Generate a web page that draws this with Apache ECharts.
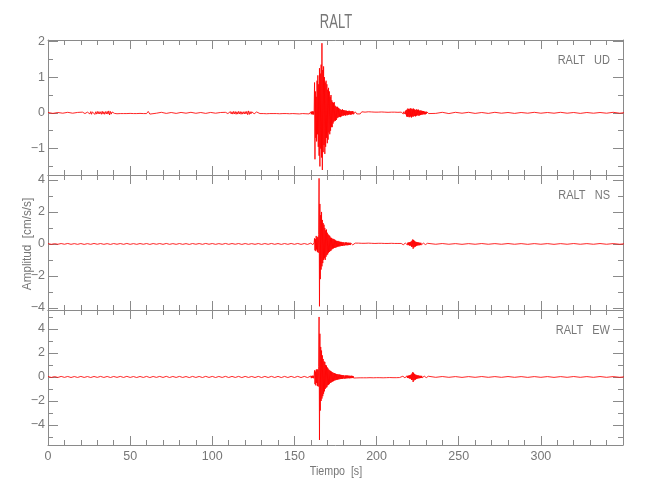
<!DOCTYPE html>
<html>
<head>
<meta charset="utf-8">
<script src="https://cdn.jsdelivr.net/npm/echarts@6/dist/echarts.min.js"></script>
<style>html,body{margin:0;padding:0;background:#fff}#c{width:650px;height:500px}</style>
</head>
<body>
<div id="c"></div>
<script>
// ---------- data (time in s, amplitude in cm/s/s) ----------
const TITLE = 'RALT';
const COMPONENTS = ['RALT   UD', 'RALT   NS', 'RALT   EW'];
const X_LABEL = 'Tiempo  [s]';
const Y_LABEL = 'Amplitud  [cm/s/s]';
const X_MIN = 0, X_MAX = 350, X_STEP = 50;

const UD_RANGE = [-1.74, 2.04];
const NS_RANGE = [-4.13, 4.31];
const EW_RANGE = [-5.67, 5.58];
const UD_TICKS = [-1, 0, 1, 2];
const UD_MINOR = [-1.5, -0.5, 0.5, 1.5];
const NS_TICKS = [-4, -2, 0, 2, 4];
const NS_MINOR = [-3, -1, 1, 3];
const EW_TICKS = [-4, -2, 0, 2, 4];
const EW_MINOR = [-5, -3, -1, 1, 3, 5];

// UD samples
const UD_N0 = [0.01,-0.015,0.01,-0.01,0.015,-0.01,0.012];
const UD_N1 = [0.02,-0.03,0.025,-0.02,0.03,-0.035,0.02,-0.03,0.04,-0.03,0.035,-0.04,0.03,-0.025,0.04,-0.045,0.03,-0.035,0.04,-0.03,0.035,-0.03,0.03,-0.04,0.045,-0.035,0.03,-0.04,0.035,-0.03,0.04,-0.035,0.055,-0.06,0.04,-0.035,0.025,-0.03,0.02,-0.015];
const UD_N2 = [0.02,-0.025,0.02,-0.02,0.025,-0.02,0.015,-0.02,0.02,-0.015,0.02,-0.02,0.015,-0.02,0.02,-0.015,0.02,-0.02,0.015,-0.02,0.04,-0.035];
const UD_N3 = [0.015,-0.01,0.015,-0.015,0.01,-0.015,0.012,-0.01,0.015,-0.012,0.01,-0.015,0.012,-0.01,0.01];
const UD_N4 = [0.015,-0.02,0.025,-0.02,0.03,-0.025,0.035,-0.03,0.03,-0.035,0.04,-0.03,0.035,-0.04,0.03,-0.035,0.04,-0.03,0.035,-0.04,0.03,-0.035,0.03,-0.03,0.035,-0.03,0.04,-0.05,0.055,-0.045,0.035,-0.03,0.03,-0.025,0.03,-0.025,0.02,-0.02,0.025,-0.02];
const UD_N5 = [0.02,-0.02,0.025,-0.02,0.02,-0.025,0.02,-0.02,0.025,-0.02,0.02,-0.02,0.025,-0.025,0.02,-0.02,0.025,-0.02,0.02,-0.025,0.03,-0.02,0.025,-0.025,0.02,-0.03,0.025,-0.02,0.03,-0.025,0.02,-0.03];
const UD_BURST = [0.03,-0.04,0.035,-0.03,0.04,-0.05,0.04,-0.045,0.05,0.85,-1.3,0.6,-0.7,0.45,-0.8,0.9,-0.6,1.05,-0.95,0.8,-1.2,1.25,-1.5,1.1,-1.0,1.35,-1.25,1.95,-1.6,1.2,-1.1,1.3,-0.9,1.0,-1.15,0.85,-0.95,0.9,-0.7,0.8,-0.85,0.65,-0.75,0.7,-0.55,0.6,-0.6,0.45,-0.5,0.5,-0.4,0.35,-0.4,0.3,-0.3,0.28,-0.25,0.3,-0.22,0.2,-0.22,0.18,-0.2,0.16,-0.15,0.17,-0.13,0.14,-0.12,0.12,-0.11,0.1,-0.12,0.09,-0.1,0.08,-0.09,0.1,-0.07,0.08,-0.08,0.07,-0.06,0.07,-0.08,0.06,-0.05,0.06,-0.07,0.05,-0.06,0.05,-0.05,0.06,-0.04,0.05,-0.05,0.04,-0.05,0.04,-0.04,0.05,-0.03,0.04,-0.04];
const UD_TAIL = [0.03,-0.03,0.025,-0.03,0.03,-0.025,0.02,-0.025,0.03,-0.02,0.025,-0.02,0.02,-0.025,0.02,-0.02,0.025,-0.02,0.02,-0.02,0.015,-0.02,0.02,-0.015,0.02,-0.02,0.015,-0.02,0.02];
const UD_CODA = [0.02,-0.03,0.03,-0.02,0.04,-0.03,0.05,-0.04,0.08,-0.1,0.09,-0.11,0.12,-0.1,0.11,-0.12,0.1,-0.12,0.13,-0.1,0.11,-0.13,0.12,-0.1,0.1,-0.11,0.12,-0.09,0.1,-0.09,0.08,-0.1,0.09,-0.08,0.1,-0.07,0.08,-0.07,0.09,-0.08,0.06,-0.07,0.07,-0.06,0.06,-0.05,0.06,-0.05,0.05,-0.04,0.05,-0.04,0.04,-0.04,0.03,-0.04,0.03,-0.03,0.03,-0.02,0.03,-0.02,0.02,-0.02];
const UD_END = [0.02,-0.015,0.015,-0.02,0.015,-0.01,0.015,-0.015,0.01,-0.015,0.015,-0.01,0.01,-0.015,0.01,-0.01,0.015,-0.01,0.01,-0.01,0.015,-0.01,0.01,-0.015,0.01,-0.01,0.01,-0.01,0.015,-0.01,0.01];

// NS samples
const NS_PRE = [0.02,-0.025,0.015,-0.02,0.025,-0.02,0.03,-0.025,0.02,-0.025,0.025,-0.03,0.02,-0.025,0.03,-0.02,0.025,-0.025,0.02,-0.03,0.025,-0.02,0.025,-0.025,0.03,-0.025,0.02,-0.025,0.025,-0.02,0.025,-0.03,0.025,-0.02,0.025,-0.025,0.03,-0.025,0.02,-0.025,0.025,-0.025,0.02,-0.03,0.025,-0.02,0.025,-0.025,0.03,-0.02,0.025,-0.025,0.02,-0.025,0.03,-0.025,0.025,-0.02,0.025,-0.03,0.025,-0.025,0.02,-0.025,0.025,-0.03,0.025,-0.025,0.03,-0.025,0.025,-0.03,0.025,-0.025,0.03,-0.025,0.03,-0.03,0.025,-0.03];
const NS_BURST = [0.05,-0.06,0.05,-0.07,0.06,-0.05,0.07,-0.06,0.08,0.35,-0.4,0.3,-0.45,0.5,-0.35,0.4,-0.5,0.45,-0.55,0.6,4.1,-3.9,2.5,-2.2,1.8,-1.6,2.0,-1.4,1.5,-1.2,1.3,-1.0,1.2,-0.9,1.0,-1.0,0.85,-0.8,0.9,-0.7,0.7,-0.65,0.6,-0.55,0.55,-0.5,0.5,-0.45,0.4,-0.42,0.38,-0.35,0.33,-0.3,0.32,-0.28,0.3,-0.25,0.27,-0.24,0.22,-0.22,0.2,-0.2,0.18,-0.17,0.19,-0.16,0.16,-0.15,0.14,-0.15,0.13,-0.12,0.13,-0.12,0.11,-0.12,0.1,-0.11,0.1,0.09,-0.1,0.09,-0.08,0.1,-0.08,0.09,-0.08,0.07,-0.08,0.08,-0.07,0.07,-0.06,0.07,-0.07,0.06,-0.06,0.07,-0.05,0.06,-0.06,0.05,-0.06];
const NS_TAIL = [0.05,-0.04,0.05,-0.05,0.04,-0.05,0.04,-0.04,0.05,-0.04,0.04,-0.04,0.03,-0.04,0.04,-0.03,0.04,-0.04,0.03,-0.04,0.03,-0.03,0.04,-0.03,0.03,-0.04,0.03,-0.03,0.03];
const NS_CODA = [0.04,-0.05,0.05,-0.04,0.06,-0.05,0.05,-0.06,0.06,-0.07,0.07,-0.06,0.08,-0.07,0.09,-0.08,0.1,-0.12,0.12,-0.1,0.15,-0.18,0.2,-0.17,0.28,-0.3,0.25,-0.22,0.2,-0.18,0.15,-0.16,0.13,-0.12,0.12,-0.1,0.1,-0.09,0.09,-0.08,0.08,-0.08,0.07,-0.07,0.07,-0.06,0.06,-0.06,0.06,-0.05,0.05,-0.06,0.05,-0.05,0.05,-0.04,0.05,-0.04,0.04,-0.05,0.04,-0.04,0.04,-0.04];
const NS_END = [0.02,-0.02,0.025,-0.02,0.02,-0.025,0.02,-0.02,0.025,-0.02,0.02,-0.02,0.025,-0.02,0.02,-0.025,0.02,-0.02,0.02,-0.025,0.02,-0.02,0.025,-0.02,0.02,-0.02,0.025,-0.02,0.02,-0.02,0.02];

// EW samples
const EW_PRE = [0.035,-0.04,0.03,-0.04,0.045,-0.035,0.04,-0.045,0.035,-0.04,0.045,-0.04,0.035,-0.045,0.04,-0.035,0.045,-0.04,0.04,-0.045,0.04,-0.035,0.045,-0.04,0.05,-0.04,0.035,-0.045,0.04,-0.04,0.045,-0.05,0.04,-0.035,0.045,-0.04,0.05,-0.045,0.04,-0.04,0.045,-0.04,0.035,-0.05,0.045,-0.04,0.04,-0.045,0.05,-0.04,0.045,-0.045,0.04,-0.04,0.05,-0.045,0.045,-0.04,0.045,-0.05,0.045,-0.04,0.04,-0.045,0.045,-0.05,0.045,-0.045,0.05,-0.045,0.045,-0.05,0.045,-0.045,0.05,-0.045,0.05,-0.05,0.045,-0.05];
const EW_BURST = [0.08,-0.1,0.09,-0.08,0.1,-0.09,0.1,-0.11,0.12,0.55,-0.6,0.45,-0.7,0.6,-0.5,0.65,-0.75,0.6,-0.8,0.9,5.0,-5.25,3.6,-2.8,2.5,-2.0,2.2,-1.8,1.8,-1.6,1.5,-1.4,1.3,-1.2,1.25,-1.0,1.0,-0.9,0.95,-0.85,0.8,-0.7,0.7,-0.65,0.6,-0.6,0.55,-0.5,0.5,-0.48,0.45,-0.42,0.4,-0.38,0.36,-0.35,0.33,-0.3,0.32,-0.28,0.27,-0.26,0.25,-0.24,0.23,-0.22,0.22,-0.2,0.2,-0.19,0.2,-0.18,0.18,-0.17,0.17,-0.16,0.16,-0.15,0.15,-0.14,0.14,0.13,-0.14,0.12,-0.13,0.13,-0.12,0.12,-0.11,0.12,-0.11,0.11,-0.1,0.1,-0.11,0.1,-0.1,0.09,-0.1,0.1,-0.09,0.09,-0.09,0.08,-0.09];
const EW_TAIL = [0.07,-0.08,0.07,-0.07,0.08,-0.07,0.06,-0.07,0.07,-0.06,0.07,-0.07,0.06,-0.06,0.07,-0.06,0.06,-0.07,0.06,-0.06,0.06,-0.05,0.06,-0.06,0.05,-0.06,0.06,-0.05,0.05];
const EW_CODA = [0.06,-0.07,0.07,-0.06,0.08,-0.07,0.08,-0.08,0.08,-0.09,0.09,-0.08,0.1,-0.09,0.11,-0.1,0.13,-0.15,0.16,-0.14,0.2,-0.25,0.28,-0.24,0.4,-0.42,0.35,-0.3,0.26,-0.24,0.2,-0.22,0.18,-0.16,0.15,-0.14,0.13,-0.12,0.12,-0.11,0.1,-0.1,0.1,-0.09,0.09,-0.08,0.09,-0.08,0.08,-0.08,0.07,-0.08,0.07,-0.07,0.07,-0.06,0.07,-0.06,0.06,-0.07,0.06,-0.06,0.06,-0.06];
const EW_END = [0.03,-0.03,0.035,-0.03,0.03,-0.035,0.03,-0.03,0.035,-0.03,0.03,-0.03,0.035,-0.03,0.03,-0.035,0.03,-0.03,0.03,-0.035,0.03,-0.03,0.035,-0.03,0.03,-0.03,0.035,-0.03,0.03,-0.03,0.03];

// segments: [start time, sample step, samples]
const UD_SEGS = [[0,3,UD_N0],[21,0.5,UD_N1],[41,1,UD_N2],[63,3,UD_N3],[108,0.5,UD_N4],[128,1,UD_N5],[160,0.25,UD_BURST],[187,1,UD_TAIL],[216,0.25,UD_CODA],[232,4,UD_END]];
const NS_SEGS = [[0,2,NS_PRE],[160,0.25,NS_BURST],[187,1,NS_TAIL],[216,0.25,NS_CODA],[232,4,NS_END]];
const EW_SEGS = [[0,2,EW_PRE],[160,0.25,EW_BURST],[187,1,EW_TAIL],[216,0.25,EW_CODA],[232,4,EW_END]];

// ---------- chart ----------
function build(segs) {
  const out = [];
  segs.forEach(([t0, dt, vals]) => vals.forEach((v, i) => out.push([+(t0 + i * dt).toFixed(3), v])));
  return out;
}
const PANELS = [
  {range: UD_RANGE, ticks: UD_TICKS, minor: UD_MINOR, data: build(UD_SEGS)},
  {range: NS_RANGE, ticks: NS_TICKS, minor: NS_MINOR, data: build(NS_SEGS)},
  {range: EW_RANGE, ticks: EW_TICKS, minor: EW_MINOR, data: build(EW_SEGS)}
];

const FONT = "'Liberation Sans', Arial, sans-serif";
const AX = '#8a8a8a';
const TXT = '#777777';
const L = 48, W = 575, H = 135, TOPS = [40, 175, 310];

const grid = [], xAxis = [], yAxis = [], series = [];
PANELS.forEach((p, i) => {
  for (let k = 0; k < 3; k++) grid.push({left: L, top: TOPS[i], width: W, height: H, containLabel: false});
  const g = 3 * i;
  const xBase = {type: 'value', min: X_MIN, max: X_MAX, interval: X_STEP,
    axisLine: {show: true, onZero: false, lineStyle: {color: AX, width: 1}},
    axisTick: {show: true, inside: true, length: 9, lineStyle: {color: AX}},
    minorTick: {show: true, splitNumber: 5, length: 5, lineStyle: {color: AX}},
    splitLine: {show: false}, minorSplitLine: {show: false}};
  xAxis.push(Object.assign({}, xBase, {gridIndex: g, position: 'bottom',
    axisLabel: {show: i === 2, margin: 5, color: TXT, fontFamily: FONT, fontSize: 12.5,
      formatter: v => (v >= X_MAX ? '' : String(v))}}));
  xAxis.push(Object.assign({}, xBase, {gridIndex: g + 1, position: 'top', axisLabel: {show: false}}));
  xAxis.push({gridIndex: g + 2, type: 'value', min: X_MIN, max: X_MAX, show: false, axisLine: {onZero: false}});

  const yBase = {type: 'value', min: p.range[0], max: p.range[1], splitLine: {show: false}};
  yAxis.push(Object.assign({}, yBase, {gridIndex: g, position: 'left',
    axisLine: {show: true, onZero: false, lineStyle: {color: AX}},
    axisTick: {show: true, inside: true, length: 10, customValues: p.ticks, lineStyle: {color: AX}},
    axisLabel: {show: true, customValues: p.ticks, margin: 3, color: TXT, fontFamily: FONT, fontSize: 12.5,
      formatter: v => (v < 0 ? '\u2212' + Math.abs(v) : String(v))}}));
  yAxis.push(Object.assign({}, yBase, {gridIndex: g + 1, position: 'right',
    axisLine: {show: true, onZero: false, lineStyle: {color: AX}},
    axisTick: {show: true, inside: true, length: 10, customValues: p.ticks, lineStyle: {color: AX}},
    axisLabel: {show: false}}));
  yAxis.push(Object.assign({}, yBase, {gridIndex: g + 2, position: 'left',
    axisLine: {show: false, onZero: false},
    axisTick: {show: true, inside: true, length: 5, customValues: p.minor, lineStyle: {color: AX}},
    axisLabel: {show: false}}));
  yAxis.push(Object.assign({}, yBase, {gridIndex: g + 2, position: 'right',
    axisLine: {show: false, onZero: false},
    axisTick: {show: true, inside: true, length: 5, customValues: p.minor, lineStyle: {color: AX}},
    axisLabel: {show: false}}));

  series.push({type: 'line', xAxisIndex: 3 * i, yAxisIndex: 4 * i, data: p.data,
    showSymbol: false, symbol: 'none', sampling: null, clip: true, silent: true,
    lineStyle: {color: '#ff0000', width: 0.9, opacity: 0.95}});
});

const graphic = [
  {type: 'text', x: 336, y: 22, scaleX: 0.62, style: {text: TITLE, fill: TXT, font: '21px ' + FONT, textAlign: 'center', textVerticalAlign: 'middle'}},
  {type: 'text', x: 336, y: 471, scaleX: 0.82, style: {text: X_LABEL, fill: TXT, font: '13px ' + FONT, textAlign: 'center', textVerticalAlign: 'middle'}},
  {type: 'text', x: 27, y: 244, rotation: Math.PI / 2, scaleX: 0.9, style: {text: Y_LABEL, fill: TXT, font: '13px ' + FONT, textAlign: 'center', textVerticalAlign: 'middle'}}
];
COMPONENTS.forEach((c, i) => {
  graphic.push({type: 'text', x: 610, y: TOPS[i] + 21, scaleX: 0.88, style: {text: c, fill: TXT, font: '12.5px ' + FONT, textAlign: 'right', textVerticalAlign: 'middle'}});
});

const chart = echarts.init(document.getElementById('c'), null, {renderer: 'canvas'});
chart.setOption({animation: false, backgroundColor: '#fff', grid, xAxis, yAxis, series, graphic});
</script>
</body>
</html>
